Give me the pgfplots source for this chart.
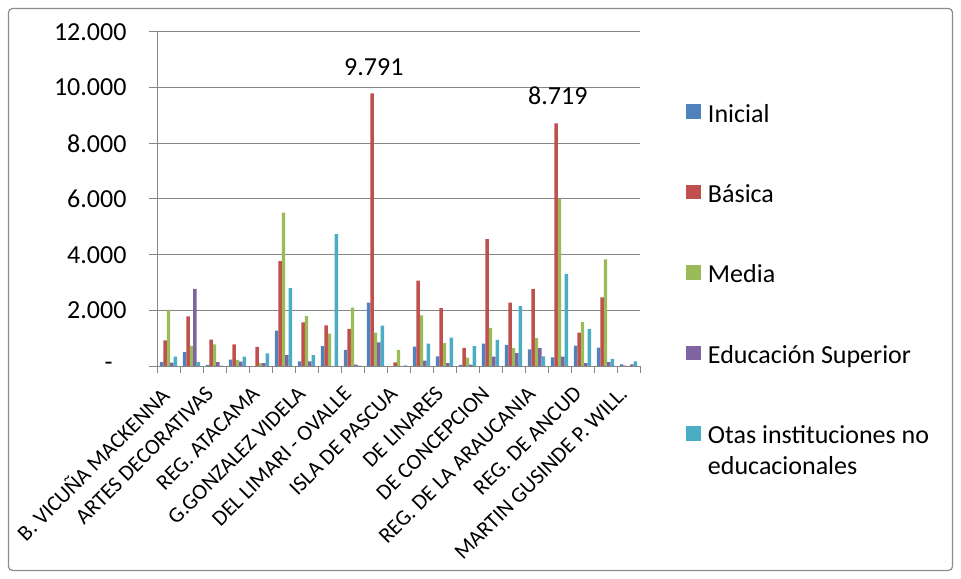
\documentclass[border=0pt]{standalone}
\usepackage{fontspec}
\setmainfont{Carlito}
\usepackage{amsmath}
\usepackage{pgfplots}
\pgfplotsset{compat=1.18}
\definecolor{cIni}{HTML}{4F81BD}
\definecolor{cBas}{HTML}{C0504D}
\definecolor{cMed}{HTML}{9BBB59}
\definecolor{cSup}{HTML}{8064A2}
\definecolor{cOtr}{HTML}{4BACC6}
\definecolor{gridgray}{HTML}{868686}
\definecolor{framegray}{HTML}{8C8C8C}
\newcommand{\lgstrut}{\rule[-24bp]{0pt}{48bp}}
\begin{document}
\begin{tikzpicture}
\useasboundingbox (0bp,0bp) rectangle (961bp,579bp);
\draw[framegray, line width=1.2bp, rounded corners=4bp] (8.5bp,8.5bp) rectangle (952.5bp,570.5bp);
\begin{axis}[
  at={(157bp,213bp)}, anchor=south west,
  scale only axis, width=483bp, height=334bp,
  ybar=0pt, bar width=3.45bp,
  xmin=-0.5, xmax=20.5, ymin=0, ymax=12000,
  scaled y ticks=false,
  axis lines=left, axis line style={-, draw=gridgray, line width=1bp},
  ymajorgrids, grid style={gridgray, line width=1bp},
  tick align=outside, major tick length=8bp, minor tick length=7bp,
  tick style={gridgray, line width=1bp},
  major x tick style={draw=none},
  xtick={0,2,...,20},
  minor xtick={-0.5,0.5,...,20.5},
  xticklabels={B. VICUÑA MACKENNA, ARTES DECORATIVAS, REG. ATACAMA, G.GONZALEZ VIDELA, DEL LIMARI - OVALLE, ISLA DE PASCUA, DE LINARES, DE CONCEPCION, REG. DE LA ARAUCANIA, REG. DE ANCUD, MARTIN GUSINDE P. WILL.},
  xticklabel style={xshift=-10bp, yshift=-11bp, rotate=45, anchor=north east, font=\fontsize{22bp}{26bp}\selectfont, inner sep=0pt},
  ytick={0,2000,...,12000},
  yticklabels={{-\hspace*{14bp}},{2.000},{4.000},{6.000},{8.000},{10.000},{12.000}},
  yticklabel style={font=\fontsize{26bp}{31bp}\selectfont, xshift=-19bp},
  legend style={draw=none, fill=none, at={(axis description cs:1.0952,0.8024)}, anchor=north west,
    inner sep=0pt, outer sep=0pt, row sep=55bp, column sep=7bp,
    nodes={inner sep=0pt, outer sep=0pt},
    font=\fontsize{26bp}{31bp}\selectfont},
  legend cell align=left,
  legend image code/.code={\fill[#1] (0bp,-8bp) rectangle (15bp,6.5bp);},
]
\addplot[fill=cIni, draw=none, bar shift=-6.9bp] coordinates {
(0,140) (1,500) (2,40) (3,230) (4,0) (5,1270) (6,170) (7,710) (8,580) (9,2280) (10,0)
(11,700) (12,350) (13,40) (14,800) (15,760) (16,600) (17,310) (18,730) (19,660) (20,60)};
\addlegendentry{\lgstrut Inicial}
\addplot[fill=cBas, draw=none, bar shift=-3.45bp] coordinates {
(0,920) (1,1780) (2,950) (3,780) (4,690) (5,3770) (6,1570) (7,1460) (8,1330) (9,9791) (10,130)
(11,3070) (12,2080) (13,650) (14,4560) (15,2280) (16,2760) (17,8719) (18,1200) (19,2470) (20,10)};
\addlegendentry{\lgstrut Básica}
\addplot[fill=cMed, draw=none, bar shift=0bp] coordinates {
(0,2020) (1,720) (2,780) (3,220) (4,100) (5,5510) (6,1790) (7,1160) (8,2100) (9,1200) (10,580)
(11,1820) (12,820) (13,300) (14,1360) (15,640) (16,1000) (17,6000) (18,1580) (19,3830) (20,0)};
\addlegendentry{\lgstrut Media}
\addplot[fill=cSup, draw=none, bar shift=3.45bp] coordinates {
(0,120) (1,2770) (2,140) (3,160) (4,100) (5,390) (6,170) (7,0) (8,50) (9,850) (10,0)
(11,190) (12,100) (13,50) (14,340) (15,460) (16,640) (17,340) (18,100) (19,140) (20,60)};
\addlegendentry{\lgstrut Educación Superior}
\addplot[fill=cOtr, draw=none, bar shift=6.9bp] coordinates {
(0,340) (1,140) (2,10) (3,340) (4,450) (5,2800) (6,390) (7,4740) (8,10) (9,1450) (10,20)
(11,800) (12,1020) (13,710) (14,940) (15,2150) (16,350) (17,3310) (18,1330) (19,260) (20,170)};
\addlegendentry{\lgstrut\smash[b]{\begin{tabular}[t]{@{}l@{}}Otas instituciones no\\educacionales\end{tabular}}}
\addplot[draw=none, fill=none, bar shift=-1.7bp, bar width=0bp, forget plot,
  point meta=explicit symbolic,
  nodes near coords={\pgfplotspointmeta},
  nodes near coords style={font=\fontsize{26bp}{31bp}\selectfont, anchor=south, inner sep=0pt, yshift=18bp}]
  coordinates {(9,9791) [9.791] (17,8719) [8.719]};
\end{axis}
\end{tikzpicture}
\end{document}
